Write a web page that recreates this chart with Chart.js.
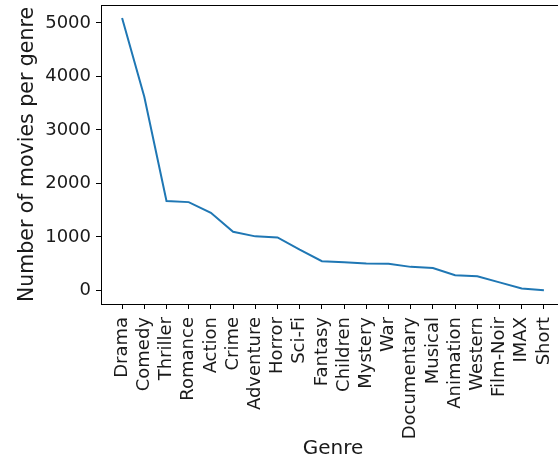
<!DOCTYPE html>
<html>
<head>
<meta charset="utf-8">
<script src="https://cdn.jsdelivr.net/npm/chart.js@4"></script>
<style>
  html, body { margin: 0; padding: 0; background: #fff; overflow: hidden; }
  #wrap { width: 558px; height: 461px; overflow: hidden; }
</style>
</head>
<body>
<div id="wrap"><canvas id="genreChart" width="575" height="461"></canvas></div>
<script>
// --- Data ---
const genres = ["Drama", "Comedy", "Thriller", "Romance", "Action", "Crime", "Adventure", "Horror",
  "Sci-Fi", "Fantasy", "Children", "Mystery", "War", "Documentary", "Musical", "Animation",
  "Western", "Film-Noir", "IMAX", "Short"];
const movieCounts = [5090, 3620, 1670, 1650, 1450, 1095, 1010, 990, 760, 545, 525, 505, 500,
  440, 420, 285, 265, 150, 35, 5];
const yTicks = [0, 1000, 2000, 3000, 4000, 5000];

const font = "DejaVu Sans";
const ink = "#1a1a1a";

// matplotlib-style box around the plot area
const frame = {
  id: "frame",
  afterDatasetsDraw(chart) {
    const { ctx, chartArea: a } = chart;
    ctx.save();
    ctx.strokeStyle = "#000";
    ctx.lineWidth = 1;
    ctx.strokeRect(a.left + 0.5, a.top + 0.5, a.right - a.left, a.bottom - a.top);
    ctx.restore();
  }
};

const ctx = document.getElementById("genreChart").getContext("2d");
new Chart(ctx, {
  type: "line",
  data: {
    datasets: [{
      data: movieCounts.map((v, i) => ({ x: i, y: v })),
      borderColor: "#1f77b4",
      borderWidth: 2,
      pointRadius: 0,
      tension: 0,
      fill: false
    }]
  },
  options: {
    responsive: false,
    animation: false,
    devicePixelRatio: 1,
    layout: { padding: { top: 5, right: 10, left: 0, bottom: 0 } },
    plugins: { legend: { display: false }, tooltip: { enabled: false } },
    scales: {
      x: {
        type: "linear",
        min: -0.95,
        max: 19.95,
        afterBuildTicks: (s) => { s.ticks = genres.map((g, i) => ({ value: i })); },
        afterFit: (s) => { s.height = 157; s.paddingLeft = 0; s.paddingRight = 0; },
        grid: { display: true, drawOnChartArea: false, drawTicks: true, tickLength: 5, color: "#000" },
        border: { display: true, color: "#000", width: 1 },
        ticks: {
          autoSkip: false,
          minRotation: 90,
          maxRotation: 90,
          padding: 8,
          color: ink,
          font: { family: font, size: 18 },
          callback: (v) => genres[v]
        },
        title: {
          display: true,
          text: "Genre",
          color: ink,
          font: { family: font, size: 20 },
          padding: { top: 0, bottom: 0 }
        }
      },
      y: {
        min: -254,
        max: 5334,
        afterBuildTicks: (s) => { s.ticks = yTicks.map((v) => ({ value: v })); },
        afterFit: (s) => { s.width = 101; s.paddingTop = 0; s.paddingBottom = 0; },
        grid: { display: true, drawOnChartArea: false, drawTicks: true, tickLength: 5, color: "#000" },
        border: { display: true, color: "#000", width: 1 },
        ticks: {
          padding: 5,
          color: ink,
          font: { family: font, size: 18 },
          callback: (v) => String(v)
        },
        title: {
          display: true,
          text: "Number of movies per genre",
          color: ink,
          font: { family: font, size: 20.5 },
          padding: { top: 15, bottom: 0 }
        }
      }
    }
  },
  plugins: [frame]
});
</script>
</body>
</html>
